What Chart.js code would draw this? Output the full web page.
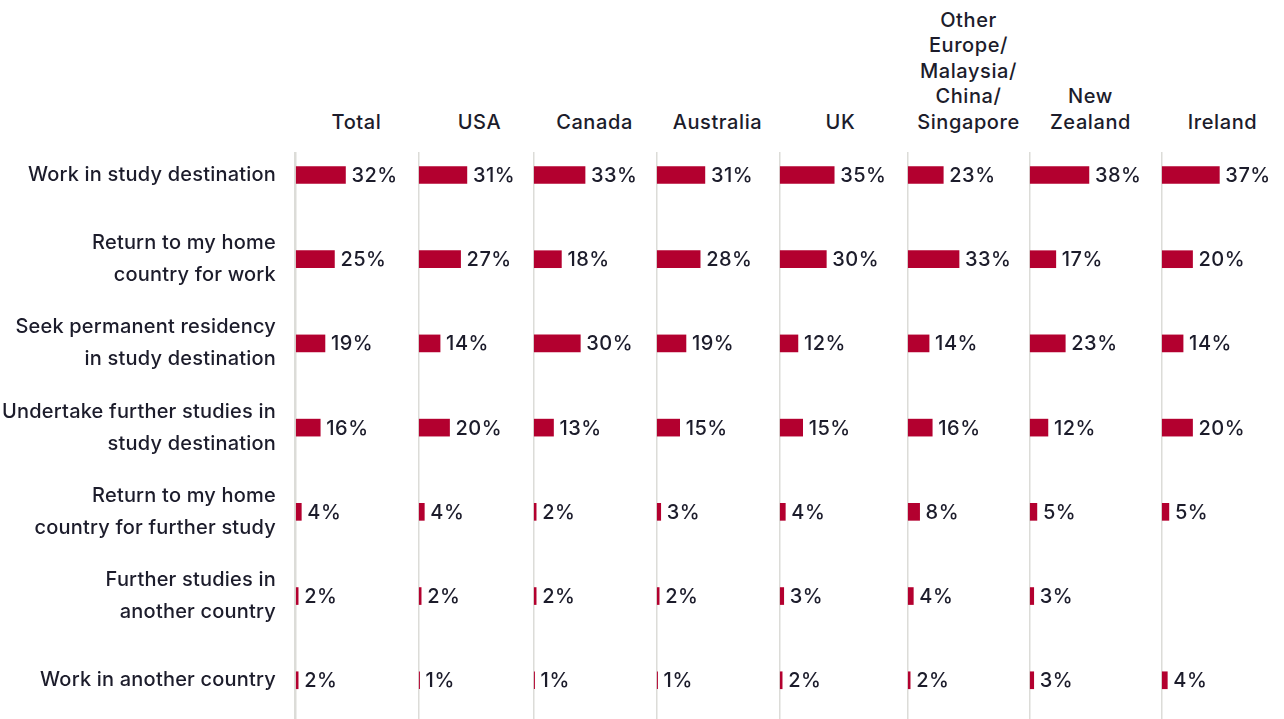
<!DOCTYPE html>
<html>
<head>
<meta charset="utf-8">
<script src="https://cdn.jsdelivr.net/npm/chart.js@4.4.1/dist/chart.umd.min.js"></script>
<style>
  html, body { margin: 0; padding: 0; background: #fff; }
  body { width: 1284px; height: 719px; position: relative; overflow: hidden; font-family: Inter, "Noto Sans", sans-serif; color: #1c1c2b; }
  .head { position: absolute; bottom: 584px; text-align: center; font-size: 20px; font-weight: 500; line-height: 25.5px; letter-spacing: 0.6px; }
  .panel { position: absolute; top: 152px; height: 567px; }
</style>
</head>
<body>
<script>
// row categories (multi-line labels)
const rowLabels = [
    ['Work in study destination'],
    ['Return to my home', 'country for work'],
    ['Seek permanent residency', 'in study destination'],
    ['Undertake further studies in', 'study destination'],
    ['Return to my home', 'country for further study'],
    ['Further studies in', 'another country'],
    ['Work in another country']
];

// column headers
const destinations = [
    ['Total'],
    ['USA'],
    ['Canada'],
    ['Australia'],
    ['UK'],
    ['Other', 'Europe/', 'Malaysia/', 'China/', 'Singapore'],
    ['New', 'Zealand'],
    ['Ireland']
];

// values (%), one array per destination
const totalVals     = [32, 25, 19, 16, 4, 2, 2];
const usaVals       = [31, 27, 14, 20, 4, 2, 1];
const canadaVals    = [33, 18, 30, 13, 2, 2, 1];
const australiaVals = [31, 28, 19, 15, 3, 2, 1];
const ukVals        = [35, 30, 12, 15, 4, 3, 2];
const otherVals     = [23, 33, 14, 16, 8, 4, 2];
const nzVals        = [38, 17, 23, 12, 5, 3, 3];
const irelandVals   = [37, 20, 14, 20, 5, null, 4];

const seriesList = [totalVals, usaVals, canadaVals, australiaVals, ukVals, otherVals, nzVals, irelandVals];

// layout
const panelLeft = [295, 418, 533, 656, 779, 907, 1029, 1161];
const panelWidth = 123;
const labelWidth = 295;
const barColor = '#b3002f';
const textColor = '#1c1c2b';
const lineColor = '#dcdcd8';
const fontFamily = 'Inter, "Noto Sans", sans-serif';

// slightly wider tracking for the canvas text
const spacing = {
    id: 'spacing',
    beforeDraw(chart) { chart.ctx.letterSpacing = '0.2px'; }
};

const valueLabels = {
    id: 'valueLabels',
    afterDatasetsDraw(chart) {
        const ctx = chart.ctx;
        const meta = chart.getDatasetMeta(0);
        const data = chart.data.datasets[0].data;
        ctx.save();
        ctx.letterSpacing = '0.5px';
        ctx.fillStyle = textColor;
        ctx.font = '500 20px ' + fontFamily;
        ctx.textBaseline = 'middle';
        ctx.textAlign = 'left';
        meta.data.forEach((bar, i) => {
            const v = data[i].x;
            if (v === null || v === undefined) return;
            ctx.fillText(v + '%', bar.x + 6, bar.y + 1);
        });
        ctx.restore();
    }
};

function makeHeader(i) {
    const d = document.createElement('div');
    d.className = 'head';
    d.style.left = panelLeft[i] + 'px';
    d.style.width = panelWidth + 'px';
    d.innerHTML = destinations[i].join('<br>');
    document.body.appendChild(d);
}

function makePanel(i) {
    const first = i === 0;
    const wrap = document.createElement('div');
    wrap.className = 'panel';
    wrap.style.left = (first ? 0 : panelLeft[i]) + 'px';
    wrap.style.width = (first ? labelWidth + panelWidth : panelWidth) + 'px';
    const canvas = document.createElement('canvas');
    wrap.appendChild(canvas);
    document.body.appendChild(wrap);

    const vals = seriesList[i];
    new Chart(canvas, {
        type: 'bar',
        data: {
            datasets: [{
                data: vals.map((v, k) => ({ x: v, y: k })),
                backgroundColor: barColor,
                barThickness: 17,
                borderWidth: 0
            }]
        },
        options: {
            indexAxis: 'y',
            responsive: true,
            maintainAspectRatio: false,
            animation: false,
            layout: { padding: 0 },
            plugins: { legend: { display: false }, tooltip: { enabled: false } },
            scales: {
                x: {
                    type: 'linear',
                    min: 0,
                    max: 78,
                    ticks: { display: false, stepSize: 100 },
                    border: { display: false },
                    grid: {
                        drawTicks: false,
                        lineWidth: 2.5,
                        color: c => (c.tick && c.tick.value === 0) ? lineColor : 'rgba(0,0,0,0)'
                    },
                    afterFit: s => { s.height = 0; s.paddingLeft = 0; s.paddingRight = 0; }
                },
                y: {
                    type: 'linear',
                    reverse: true,
                    offset: false,
                    min: -0.273,
                    max: 6.46,
                    display: first,
                    afterBuildTicks: s => { s.ticks = rowLabels.map((_, k) => ({ value: k })); },
                    afterFit: s => {
                        if (first) s.width = labelWidth;
                        s.paddingTop = 0;
                        s.paddingBottom = 0;
                    },
                    ticks: {
                        autoSkip: false,
                        padding: 19,
                        color: textColor,
                        font: { family: fontFamily, size: 20, weight: '500', lineHeight: 1.6 },
                        callback: v => rowLabels[v]
                    },
                    grid: { display: false, drawTicks: false, offset: false },
                    border: { display: false }
                }
            }
        },
        plugins: [spacing, valueLabels]
    });
}

destinations.forEach((_, i) => {
    makeHeader(i);
    makePanel(i);
});
</script>
</body>
</html>
